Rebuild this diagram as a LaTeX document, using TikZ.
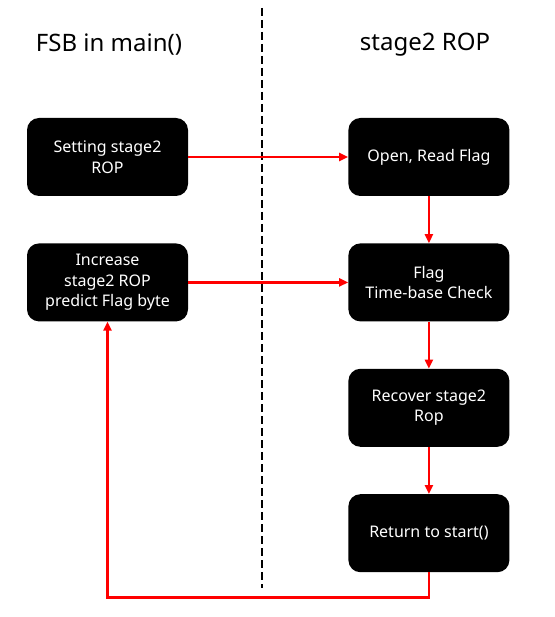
\documentclass[tikz,border=0pt]{standalone}
\usepackage{fontspec}
\setmainfont{Noto Sans}
\usepackage{xcolor}
\usetikzlibrary{arrows.meta,positioning}
\definecolor{ropRed}{HTML}{FF0000}

\begin{document}
\begin{tikzpicture}[
  x=1pt, y=-1pt,
  node distance=47pt,
  blk/.style={rounded corners=12pt, fill=black, text=white, align=center,
    inner sep=4pt, minimum width=161pt, minimum height=78pt,
    font=\fontsize{16}{20.5}\selectfont},
  ttl/.style={font=\fontsize{24}{28}\selectfont},
  flow/.style={-{Triangle[length=9pt,width=8pt]}, line width=2.2pt, draw=ropRed},
  divider/.style={line width=1.8pt, draw=black, dash pattern=on 8pt off 4pt}
]
  \useasboundingbox (0,0) rectangle (554,617);
  % column titles
  \node[ttl] (fsb) at (109,45) {FSB in main()};
  \node[ttl] (stg) at (425,45) {stage2 ROP};
  % divider
  \coordinate (divtop) at (262,8);
  \coordinate (divbot) at (262,588);
  \draw[divider] (divtop) -- (divbot);
  % left column
  \node[blk] (setrop) at (107.5,157) {Setting stage2\\ROP};
  \node[blk,below=of setrop] (incrop) {Increase\\stage2 ROP\\predict Flag byte};
  % right column
  \node[blk,right=160pt of setrop] (openrd) {Open, Read Flag};
  \node[blk,below=of openrd] (timechk) {Flag\\Time-base Check};
  \node[blk,below=of timechk] (recover) {Recover stage2\\Rop};
  \node[blk,below=of recover] (retstart) {Return to start()};
  % connectors
  \draw[flow] (setrop) -- (openrd);
  \draw[flow] (incrop) -- (timechk);
  \draw[flow] (openrd) -- (timechk);
  \draw[flow] (timechk) -- (recover);
  \draw[flow] (recover) -- (retstart);
  \draw[flow] (retstart.south) -- ++(0,25) -| (incrop.south);
\end{tikzpicture}
\end{document}
